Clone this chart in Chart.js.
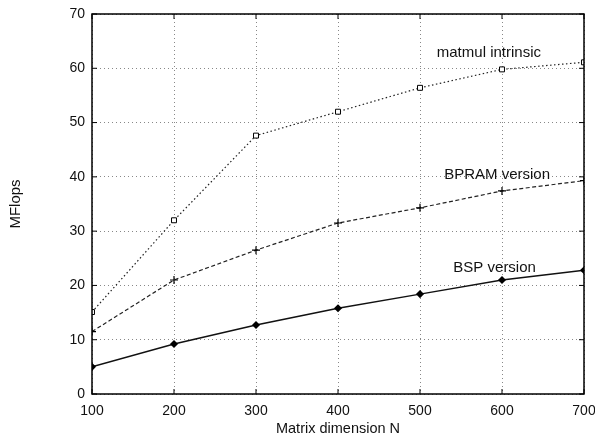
<!DOCTYPE html>
<html>
<head>
<meta charset="utf-8">
<script src="https://cdn.jsdelivr.net/npm/chart.js@4.4.1/dist/chart.umd.min.js"></script>
<style>
  html,body{margin:0;padding:0;background:#fff}
  #wrap{width:595px;height:438px}
</style>
</head>
<body>
<div id="wrap"><canvas id="c" width="595" height="438"></canvas></div>
<script>
// ── data ────────────────────────────────────────────────────────────────
const sizes   = [100,200,300,400,500,600,700];
const matmul  = [15.1,32.0,47.6,52.0,56.4,59.8,61.1];
const bpram   = [11.5,21.0,26.5,31.5,34.3,37.4,39.3];
const bsp     = [5.0,9.2,12.7,15.8,18.4,21.0,22.8];
const yTicks  = [0,10,20,30,40,50,60,70];
const curveLabels = [
  {text:'matmul intrinsic', x:584, y:62.8},
  {text:'BPRAM version',    x:594, y:40.3},
  {text:'BSP version',      x:591, y:23.2}
];

const FONT = "'Liberation Sans', Arial, sans-serif";
const pts = arr => arr.map((v,i)=>({x:sizes[i],y:v}));

// frame, inward ticks and in-plot curve labels
const frame = {
  id:'frame',
  afterDatasetsDraw(chart){
    const {ctx, chartArea:a, scales:{x,y}} = chart;
    ctx.save();
    ctx.strokeStyle='#000';
    ctx.lineWidth=1.5;
    ctx.strokeRect(a.left,a.top,a.right-a.left,a.bottom-a.top);
    ctx.lineWidth=1;
    ctx.beginPath();
    sizes.forEach(v=>{
      const px=x.getPixelForValue(v);
      ctx.moveTo(px,a.bottom); ctx.lineTo(px,a.bottom-5);
      ctx.moveTo(px,a.top);    ctx.lineTo(px,a.top+5);
    });
    yTicks.forEach(v=>{
      const py=y.getPixelForValue(v);
      ctx.moveTo(a.left,py);  ctx.lineTo(a.left+5,py);
      ctx.moveTo(a.right,py); ctx.lineTo(a.right-5,py);
    });
    ctx.stroke();
    ctx.fillStyle='#111';
    ctx.font='15px '+FONT;
    ctx.textAlign='center';
    ctx.textBaseline='middle';
    curveLabels.forEach(l=>{
      ctx.fillText(l.text, x.getPixelForValue(l.x), y.getPixelForValue(l.y));
    });
    ctx.restore();
  }
};

new Chart(document.getElementById('c'),{
  type:'line',
  data:{datasets:[
    {label:'matmul intrinsic', data:pts(matmul), borderColor:'#222', borderWidth:1.2, borderDash:[1.5,2.5],
     pointStyle:'rect', pointRadius:3.5, pointBackgroundColor:'#fff', pointBorderColor:'#000', pointBorderWidth:1},
    {label:'BPRAM version', data:pts(bpram), borderColor:'#222', borderWidth:1.2, borderDash:[4,2.5],
     pointStyle:'cross', pointRadius:4, pointBorderColor:'#000', pointBorderWidth:1.2},
    {label:'BSP version', data:pts(bsp), borderColor:'#111', borderWidth:1.5,
     pointStyle:'rectRot', pointRadius:3, pointBackgroundColor:'#000', pointBorderColor:'#000'}
  ]},
  options:{
    responsive:false,
    animation:false,
    layout:{padding:{top:14,right:11,left:0,bottom:0}},
    plugins:{legend:{display:false},tooltip:{enabled:false}},
    scales:{
      x:{type:'linear',min:100,max:700,
        afterFit:s=>{s.height=44;s.paddingLeft=0;s.paddingRight=0;},
        afterBuildTicks:s=>{s.ticks=sizes.map(v=>({value:v}));},
        grid:{color:'#888',lineWidth:1,drawTicks:false},
        border:{display:false,dash:[1,3]},
        ticks:{color:'#111',padding:9,font:{family:FONT,size:14},maxRotation:0},
        title:{display:true,text:'Matrix dimension N',color:'#111',font:{family:FONT,size:14.5},padding:{top:0,bottom:0}}
      },
      y:{type:'linear',min:0,max:70,
        afterFit:s=>{s.width=92;s.paddingTop=0;s.paddingBottom=0;},
        afterBuildTicks:s=>{s.ticks=yTicks.map(v=>({value:v}));},
        grid:{color:'#888',lineWidth:1,drawTicks:false},
        border:{display:false,dash:[1,3]},
        ticks:{color:'#111',padding:7,font:{family:FONT,size:14}},
        title:{display:true,text:'MFlops',color:'#111',font:{family:FONT,size:15},padding:{top:7,bottom:0}}
      }
    }
  },
  plugins:[frame]
});
</script>
</body>
</html>
